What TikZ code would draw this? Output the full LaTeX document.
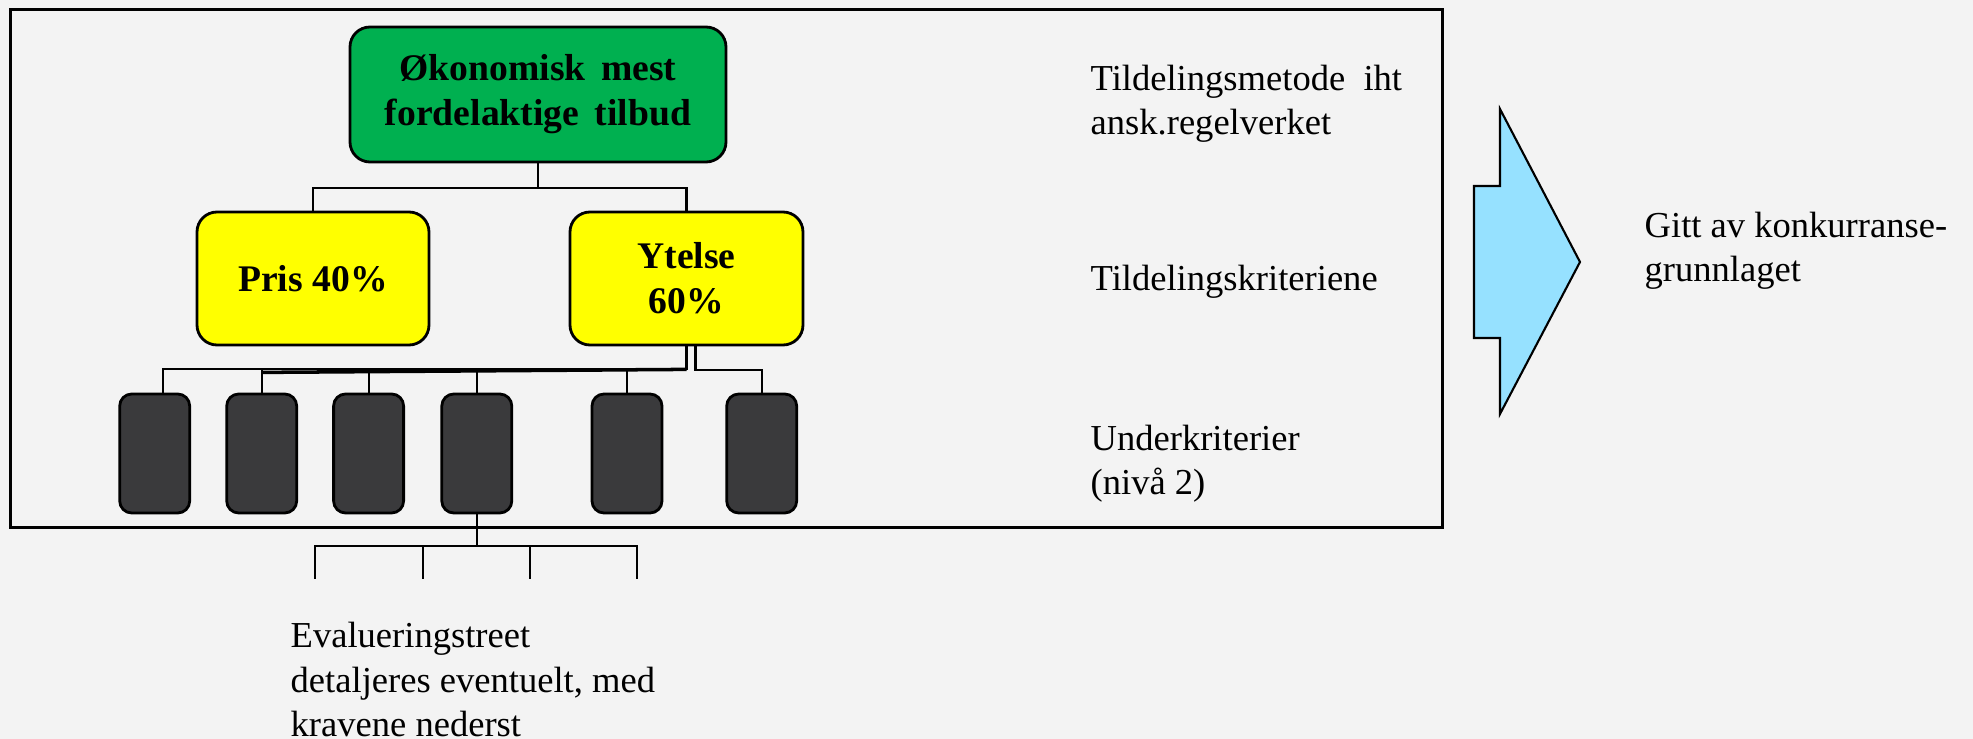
\documentclass[tikz,border=0pt]{standalone}
\usepackage{fontspec}
\setmainfont{Liberation Serif}
\definecolor{bggray}{RGB}{243,243,243}
\definecolor{topgreen}{RGB}{0,176,80}
\definecolor{crityellow}{RGB}{255,255,0}
\definecolor{subgray}{RGB}{58,58,60}
\definecolor{arrowblue}{RGB}{150,225,255}

\begin{document}
\begin{tikzpicture}[
  crit/.style={draw=black, line width=0.8pt, rounded corners=0.2cm, align=center,
    inner sep=0, font=\fontsize{10.7pt}{12.8pt}\selectfont\bfseries},
  sub/.style={draw=black, line width=0.8pt, fill=subgray, rounded corners=0.12cm,
    minimum width=0.70cm, minimum height=1.19cm, inner sep=0},
  conn/.style={line width=0.6pt},
  note/.style={anchor=base west, align=left, inner sep=0,
    font=\fontsize{10.4pt}{12.8pt}\selectfont}
]
  \useasboundingbox (0,0) rectangle (19.73,7.39);
  \fill[bggray] (0,0) rectangle (19.73,7.39);

  % Frame
  \draw[line width=0.85pt] (0.105,2.11) rectangle (14.42,7.29);

  % Top level
  \node[crit, fill=topgreen, minimum width=3.76cm, minimum height=1.35cm] (omt) at (5.38,6.445)
    {Økonomisk\ \,mest\\fordelaktige\ \,tilbud};

  % Criteria
  \node[crit, fill=crityellow, minimum width=2.32cm, minimum height=1.33cm] (pris) at (3.13,4.605) {Pris 40\%};
  \node[crit, fill=crityellow, minimum width=2.33cm, minimum height=1.33cm] (ytelse) at (6.865,4.605) {Ytelse\\60\%};

  \draw[conn] (omt.south) -- ++(0,-0.25) coordinate (omtj);
  \draw[conn] (pris.north) |- (omtj) -| (ytelse.north);

  % Sub criteria
  \foreach \x [count=\i] in {1.547,2.617,3.686,4.768,6.27,7.617}
    \node[sub] (u\i) at (\x,2.855) {};

  \draw[conn] (ytelse.south) -- ++(0,-0.23) coordinate (busj) -| ([xshift=0.85mm]u1.north);
  \draw[line width=1pt] (busj) -- ([yshift=-0.3mm]busj -| u2.north);
  \foreach \i in {2,...,5}
    \draw[conn] (u\i.north) -- (u\i.north |- busj);
  \draw[conn] ([xshift=0.9mm]ytelse.south) -- ++(0,-0.24) -| (u6.north);

  % Evaluation tree below
  \draw[conn] (u4.south) -- ++(0,-0.32) coordinate (evj);
  \coordinate (e1) at (3.15,1.60);
  \coordinate (e2) at (4.23,1.60);
  \coordinate (e3) at (5.30,1.60);
  \coordinate (e4) at (6.37,1.60);
  \draw[conn] (e1) |- (evj) -| (e4);
  \draw[conn] (e2) -- (e2 |- evj);
  \draw[conn] (e3) -- (e3 |- evj);

  % Level labels (base = last line)
  \node[note] (lvl1) at (10.90,6.04) {Tildelingsmetode\ \ iht\\ansk.regelverket};
  \node[note] (lvl2) at (10.90,4.48) {Tildelingskriteriene};
  \node[note] (lvl3) at (10.90,2.44) {Underkriterier\\(nivå 2)};
  \node[note] (evtxt) at (2.90,0.02) {Evalueringstreet\\detaljeres eventuelt, med\\kravene nederst};

  % Arrow
  \draw[line width=0.6pt, fill=arrowblue] (14.74,5.53) -- (15.00,5.53) -- (15.00,6.30)
    -- (15.80,4.77) -- (15.00,3.25) -- (15.00,4.01) -- (14.74,4.01) -- cycle;
  \node[note] (given) at (16.44,4.57) {Gitt av konkurranse-\\grunnlaget};
\end{tikzpicture}
\end{document}
